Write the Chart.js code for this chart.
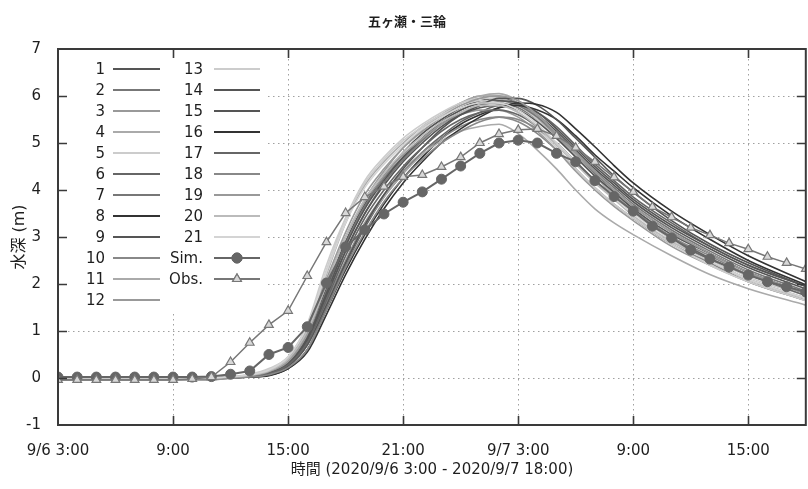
<!DOCTYPE html>
<html>
<head>
<meta charset="utf-8">
<script src="https://cdn.jsdelivr.net/npm/chart.js@4/dist/chart.umd.min.js"></script>
<style>
  html, body { margin: 0; padding: 0; background: #fff; overflow: hidden; }
  #wrap { width: 812px; height: 489px; }
</style>
</head>
<body>
<div id="wrap"><canvas id="c" width="812" height="489"></canvas></div>
<script>
// hours since 9/6 3:00
const xTickLabels = ['9/6 3:00', '9:00', '15:00', '21:00', '9/7 3:00', '9:00', '15:00'];
const chartTitle = '五ヶ瀬・三輪';
const xTitle = '時間 (2020/9/6 3:00 - 2020/9/7 18:00)';
const yTitle = '水深 (m)';

// ensemble members are sampled at these hours
const memberHours = [0, 8, 9, 10, 11, 12, 13, 14, 15, 16, 17, 18, 19, 20, 21, 22, 23, 24, 25, 26, 27, 28, 29, 30, 32, 34, 36, 39];
const m1  = [0, 0, 0.02, 0.05, 0.12, 0.35, 0.9, 1.9, 2.9, 3.7, 4.3, 4.8, 5.2, 5.5, 5.75, 5.9, 5.95, 5.85, 5.6, 5.25, 4.85, 4.45, 4.1, 3.75, 3.2, 2.75, 2.35, 1.9];
const m2  = [0, 0, 0.01, 0.04, 0.1, 0.3, 0.8, 1.7, 2.7, 3.5, 4.15, 4.65, 5.05, 5.4, 5.65, 5.8, 5.85, 5.75, 5.5, 5.15, 4.75, 4.35, 4.0, 3.65, 3.1, 2.65, 2.25, 1.8];
const m3  = [-0.03, -0.03, 0, 0.03, 0.1, 0.3, 0.9, 2.0, 3.0, 3.8, 4.4, 4.9, 5.3, 5.6, 5.85, 6.0, 6.0, 5.85, 5.55, 5.15, 4.7, 4.3, 3.9, 3.55, 2.95, 2.5, 2.1, 1.7];
const m4  = [0, 0, 0.02, 0.05, 0.12, 0.35, 1.0, 2.2, 3.3, 4.1, 4.6, 5.0, 5.35, 5.6, 5.85, 6.0, 6.05, 5.9, 5.6, 5.2, 4.75, 4.3, 3.9, 3.55, 2.95, 2.5, 2.1, 1.7];
const m5  = [0, 0, 0.03, 0.08, 0.2, 0.45, 1.1, 2.3, 3.4, 4.2, 4.7, 5.1, 5.4, 5.65, 5.85, 5.95, 5.95, 5.8, 5.5, 5.1, 4.7, 4.3, 3.95, 3.6, 3.0, 2.55, 2.15, 1.75];
const m6  = [0, 0, 0.01, 0.03, 0.08, 0.25, 0.7, 1.5, 2.4, 3.2, 3.85, 4.35, 4.8, 5.15, 5.45, 5.65, 5.8, 5.8, 5.65, 5.35, 4.95, 4.55, 4.2, 3.85, 3.3, 2.8, 2.4, 1.95];
const m7  = [-0.03, -0.03, 0, 0.03, 0.1, 0.3, 0.85, 1.85, 2.85, 3.65, 4.25, 4.7, 5.1, 5.45, 5.7, 5.85, 5.9, 5.8, 5.55, 5.2, 4.8, 4.4, 4.05, 3.7, 3.15, 2.7, 2.3, 1.85];
const m8  = [0, 0, 0.01, 0.02, 0.06, 0.2, 0.6, 1.45, 2.3, 3.05, 3.7, 4.25, 4.7, 5.1, 5.4, 5.6, 5.75, 5.8, 5.7, 5.5, 5.15, 4.75, 4.4, 4.05, 3.45, 2.95, 2.5, 1.98];
const m9  = [0, 0, 0.02, 0.04, 0.1, 0.3, 0.85, 1.8, 2.8, 3.6, 4.2, 4.7, 5.1, 5.45, 5.7, 5.85, 5.9, 5.85, 5.65, 5.3, 4.9, 4.5, 4.15, 3.8, 3.25, 2.8, 2.4, 1.95];
const m10 = [0, 0, 0.02, 0.05, 0.12, 0.3, 0.75, 1.6, 2.5, 3.3, 3.9, 4.4, 4.8, 5.1, 5.35, 5.5, 5.55, 5.45, 5.2, 4.85, 4.45, 4.05, 3.7, 3.4, 2.85, 2.45, 2.05, 1.65];
const m11 = [-0.04, -0.04, -0.01, 0.02, 0.08, 0.25, 0.7, 1.55, 2.45, 3.25, 3.85, 4.35, 4.75, 5.05, 5.25, 5.35, 5.4, 5.2, 4.85, 4.45, 4.0, 3.6, 3.3, 3.05, 2.6, 2.2, 1.9, 1.55];
const m12 = [0, 0, 0.02, 0.05, 0.12, 0.35, 0.95, 2.0, 3.0, 3.75, 4.3, 4.75, 5.1, 5.4, 5.6, 5.7, 5.7, 5.55, 5.25, 4.85, 4.4, 4.0, 3.65, 3.35, 2.8, 2.4, 2.05, 1.65];
const m13 = [0, 0, 0.03, 0.07, 0.18, 0.45, 1.15, 2.4, 3.4, 4.15, 4.65, 5.05, 5.35, 5.6, 5.8, 5.9, 5.85, 5.65, 5.3, 4.9, 4.45, 4.05, 3.7, 3.4, 2.85, 2.4, 2.05, 1.65];
const m14 = [0, 0, 0.01, 0.03, 0.08, 0.25, 0.7, 1.55, 2.45, 3.25, 3.9, 4.45, 4.9, 5.3, 5.6, 5.8, 5.95, 5.95, 5.8, 5.5, 5.1, 4.7, 4.3, 3.95, 3.35, 2.85, 2.45, 1.95];
const m15 = [0, 0, 0.02, 0.04, 0.1, 0.3, 0.8, 1.75, 2.7, 3.5, 4.1, 4.6, 5.0, 5.35, 5.6, 5.75, 5.8, 5.7, 5.45, 5.1, 4.7, 4.3, 3.95, 3.6, 3.05, 2.65, 2.25, 1.8];
const m16 = [0, 0, 0.01, 0.02, 0.05, 0.2, 0.55, 1.35, 2.2, 2.95, 3.6, 4.15, 4.6, 5.0, 5.3, 5.55, 5.75, 5.85, 5.82, 5.65, 5.3, 4.92, 4.52, 4.15, 3.55, 3.05, 2.6, 2.05];
const m17 = [0, 0, 0.02, 0.04, 0.1, 0.28, 0.75, 1.65, 2.6, 3.4, 4.0, 4.5, 4.9, 5.25, 5.5, 5.65, 5.7, 5.6, 5.35, 5.0, 4.6, 4.2, 3.85, 3.55, 3.0, 2.55, 2.2, 1.75];
const m18 = [-0.03, -0.03, 0, 0.02, 0.07, 0.22, 0.6, 1.45, 2.35, 3.1, 3.75, 4.25, 4.65, 5.0, 5.25, 5.45, 5.55, 5.5, 5.3, 5.0, 4.6, 4.2, 3.85, 3.55, 3.0, 2.6, 2.2, 1.8];
const m19 = [0, 0, 0.02, 0.05, 0.14, 0.4, 1.05, 2.1, 3.1, 3.9, 4.45, 4.9, 5.25, 5.55, 5.8, 5.95, 6.0, 5.9, 5.6, 5.2, 4.8, 4.4, 4.0, 3.65, 3.1, 2.65, 2.25, 1.8];
const m20 = [0, 0, 0.02, 0.06, 0.15, 0.4, 1.0, 2.0, 3.0, 3.8, 4.35, 4.8, 5.15, 5.45, 5.65, 5.8, 5.8, 5.65, 5.35, 4.95, 4.55, 4.15, 3.8, 3.45, 2.9, 2.5, 2.1, 1.7];
const m21 = [0, 0, 0.03, 0.07, 0.17, 0.45, 1.1, 2.25, 3.3, 4.05, 4.55, 4.95, 5.3, 5.55, 5.75, 5.85, 5.85, 5.7, 5.4, 5.0, 4.6, 4.2, 3.85, 3.5, 2.95, 2.5, 2.1, 1.7];
const members = [m1, m2, m3, m4, m5, m6, m7, m8, m9, m10, m11, m12, m13, m14, m15, m16, m17, m18, m19, m20, m21];
const memberColors = ['#555', '#777', '#999', '#aaa', '#ccc', '#666', '#777', '#333', '#555', '#888', '#aaa',
                      '#999', '#ccc', '#555', '#555', '#333', '#666', '#888', '#999', '#bbb', '#d4d4d4'];

// Sim. and Obs. are hourly, 0..39
const hourly = [0, 1, 2, 3, 4, 5, 6, 7, 8, 9, 10, 11, 12, 13, 14, 15, 16, 17, 18, 19, 20, 21, 22, 23, 24, 25, 26, 27, 28, 29, 30, 31, 32, 33, 34, 35, 36, 37, 38, 39];
const simValues = [0.02, 0.02, 0.02, 0.02, 0.02, 0.02, 0.02, 0.02, 0.03, 0.08, 0.15, 0.5, 0.65, 1.09, 2.02, 2.79, 3.15, 3.49, 3.74, 3.96,
                   4.23, 4.51, 4.78, 5.0, 5.06, 5.0, 4.78, 4.6, 4.2, 3.86, 3.55, 3.23, 2.98, 2.72, 2.53, 2.36, 2.19, 2.05, 1.94, 1.83];
const obsValues = [-0.04, -0.04, -0.04, -0.04, -0.04, -0.04, -0.04, -0.02, 0.02, 0.34, 0.75, 1.13, 1.43, 2.17, 2.89, 3.51, 3.85, 4.07, 4.28, 4.32,
                   4.49, 4.7, 5.0, 5.19, 5.28, 5.3, 5.15, 4.9, 4.6, 4.27, 3.96, 3.64, 3.42, 3.2, 3.04, 2.87, 2.74, 2.58, 2.45, 2.32];

const FONT = '"DejaVu Sans", "Noto Sans CJK JP", sans-serif';
const TXT = '#1e1e1e';

const toXY = (xs, ys) => xs.map((x, i) => ({ x: x, y: ys[i] }));

const datasets = members.map((vals, i) => ({
    label: String(i + 1),
    data: toXY(memberHours, vals),
    borderColor: memberColors[i],
    borderWidth: 1.6,
    pointRadius: 0,
    cubicInterpolationMode: 'monotone',
    fill: false
}));
datasets.push({
    label: 'Sim.',
    data: toXY(hourly, simValues),
    borderColor: '#666',
    backgroundColor: '#666',
    borderWidth: 2,
    pointStyle: 'circle',
    pointRadius: 5,
    pointBorderWidth: 1,
    fill: false
});
datasets.push({
    label: 'Obs.',
    data: toXY(hourly, obsValues),
    borderColor: '#777',
    backgroundColor: '#d8d8d8',
    borderWidth: 1.5,
    pointStyle: 'triangle',
    pointRadius: 5,
    pointBorderWidth: 1.2,
    fill: false
});
// later series on top, like the original plot
datasets.forEach((d, i) => { d.order = datasets.length - i; });

// dotted grid + white key box, drawn under the data
const gridAndKey = {
    id: 'gridAndKey',
    beforeDatasetsDraw: (chart) => {
        const { ctx, chartArea: { top, bottom, left, right } } = chart;
        const xs = chart.scales.x, ys = chart.scales.y;
        ctx.save();
        ctx.strokeStyle = '#a0a0a0';
        ctx.lineWidth = 1;
        ctx.setLineDash([1.5, 3.5]);
        for (let h = 6; h < 39; h += 6) {
            const px = Math.round(xs.getPixelForValue(h)) + 0.5;
            ctx.beginPath(); ctx.moveTo(px, top); ctx.lineTo(px, bottom); ctx.stroke();
        }
        for (let v = 0; v <= 6; v++) {
            const py = Math.round(ys.getPixelForValue(v)) + 0.5;
            ctx.beginPath(); ctx.moveTo(left, py); ctx.lineTo(right, py); ctx.stroke();
        }
        ctx.setLineDash([]);
        // key background
        ctx.fillStyle = '#fff';
        ctx.fillRect(left, top, 209, 263);
        ctx.restore();
    },
    afterDatasetsDraw: (chart) => {
        const { ctx } = chart;
        const sets = chart.data.datasets;
        ctx.save();
        ctx.font = '15px ' + FONT;
        ctx.textAlign = 'right';
        ctx.textBaseline = 'middle';
        sets.forEach((d, i) => {
            const col = i < 12 ? 0 : 1;
            const row = i < 12 ? i : i - 12;
            const y = 69 + row * 21;
            const textX = col === 0 ? 105 : 203;
            const x0 = col === 0 ? 113 : 214;
            const x1 = col === 0 ? 160 : 260;
            ctx.fillStyle = TXT;
            ctx.fillText(d.label, textX, y + 1);
            ctx.strokeStyle = d.borderColor;
            ctx.lineWidth = 2;
            ctx.beginPath(); ctx.moveTo(x0, y); ctx.lineTo(x1, y); ctx.stroke();
            if (d.pointRadius > 0) {
                ctx.fillStyle = d.backgroundColor;
                ctx.lineWidth = d.pointBorderWidth;
                Chart.helpers.drawPoint(ctx, { pointStyle: d.pointStyle, radius: d.pointRadius, borderWidth: d.pointBorderWidth }, (x0 + x1) / 2, y);
                ctx.fill();
                ctx.stroke();
            }
        });
        ctx.restore();
    }
};

// frame, inward ticks on all sides, titles
const frameAndTitles = {
    id: 'frameAndTitles',
    afterDraw: (chart) => {
        const { ctx, chartArea: { top, bottom, left, right } } = chart;
        const xs = chart.scales.x, ys = chart.scales.y;
        ctx.save();
        ctx.strokeStyle = '#3a3a3a';
        ctx.lineWidth = 2;
        ctx.strokeRect(left, top, right - left, bottom - top);
        ctx.lineWidth = 1.6;
        ctx.beginPath();
        for (let h = 6; h < 39; h += 6) {
            const px = Math.round(xs.getPixelForValue(h)) + 0.5;
            ctx.moveTo(px, bottom); ctx.lineTo(px, bottom - 9);
            ctx.moveTo(px, top); ctx.lineTo(px, top + 9);
        }
        for (let v = 0; v <= 6; v++) {
            const py = Math.round(ys.getPixelForValue(v)) + 0.5;
            ctx.moveTo(left, py); ctx.lineTo(left + 9, py);
            ctx.moveTo(right, py); ctx.lineTo(right - 9, py);
        }
        ctx.stroke();

        ctx.fillStyle = TXT;
        ctx.textAlign = 'center';
        ctx.textBaseline = 'middle';
        ctx.font = 'bold 13px "Noto Sans CJK JP", ' + FONT;
        ctx.fillText(chartTitle, 407, 21);
        ctx.font = '15px ' + FONT;
        ctx.fillText(xTitle, 432, 470);
        ctx.translate(20, (top + bottom) / 2);
        ctx.rotate(-Math.PI / 2);
        ctx.font = '16px ' + FONT;
        ctx.fillText(yTitle, 0, 0);
        ctx.restore();
    }
};

const ctx = document.getElementById('c').getContext('2d');
new Chart(ctx, {
    type: 'line',
    data: { datasets: datasets },
    options: {
        responsive: false,
        animation: false,
        events: [],
        layout: { padding: { top: 49, right: 2, left: 0, bottom: 0 } },
        plugins: { legend: { display: false }, tooltip: { enabled: false }, title: { display: false } },
        scales: {
            x: {
                type: 'linear',
                min: 0,
                max: 39,
                grid: { display: false },
                border: { display: false },
                ticks: {
                    stepSize: 6,
                    includeBounds: false,
                    autoSkip: false,
                    maxRotation: 0,
                    padding: 9,
                    color: TXT,
                    font: { family: FONT, size: 15 },
                    callback: (v) => (v % 6 === 0 ? xTickLabels[v / 6] : '')
                },
                afterFit: (s) => { s.height = 64; }
            },
            y: {
                min: -1,
                max: 7,
                grid: { display: false },
                border: { display: false },
                ticks: {
                    stepSize: 1,
                    padding: 9,
                    color: TXT,
                    font: { family: FONT, size: 15 }
                },
                afterFit: (s) => { s.width = 58; }
            }
        }
    },
    plugins: [gridAndKey, frameAndTitles]
});
</script>
</body>
</html>
